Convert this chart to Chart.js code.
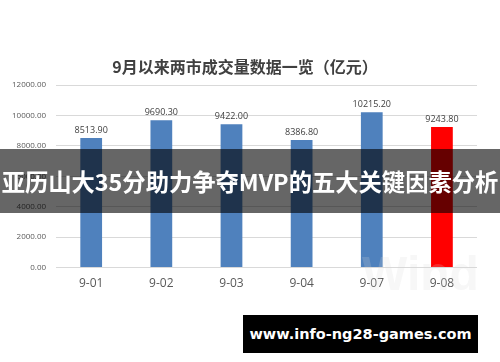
<!DOCTYPE html>
<html>
<head>
<meta charset="utf-8">
<script src="https://cdn.jsdelivr.net/npm/chart.js@4.4.1/dist/chart.umd.min.js"></script>
<style>
  html, body { margin: 0; padding: 0; background: #fff; }
  #wrap { position: relative; width: 500px; height: 362px; overflow: hidden; }
  #band {
    position: absolute; left: 0; top: 149px; width: 500px; height: 64px;
    background: rgba(0,0,0,0.6); color: #fff;
    font: bold 23.3px "Noto Sans CJK SC", sans-serif;
    line-height: 64px; text-align: center; white-space: nowrap;
  }
  #site {
    position: absolute; left: 243px; top: 315px; width: 235px; height: 38px;
    background: #000; color: #fff;
    font: bold 14.5px "DejaVu Sans", sans-serif;
    line-height: 38px; text-align: center; white-space: nowrap;
  }
  #wind {
    position: absolute; left: 362px; top: 246px;
    color: rgba(215,215,215,0.2);
    font: bold 48px "Liberation Sans", sans-serif;
  }
</style>
</head>
<body>
<div id="wrap">
  <canvas id="chart" width="500" height="362"></canvas>
  <div id="wind">Wind</div>
  <div id="band">亚历山大35分助力争夺MVP的五大关键因素分析</div>
  <div id="site">www.info-ng28-games.com</div>
</div>
<script>
let title = "9月以来两市成交量数据一览（亿元）";
let days = ["9-01", "9-02", "9-03", "9-04", "9-07", "9-08"];
let volume = [8513.90, 9690.30, 9422.00, 8386.80, 10215.20, 9243.80];
let yTicks = [0, 2000, 4000, 6000, 8000, 10000, 12000];

let barColors = days.map((d, i) => i == days.length - 1 ? "#ff0000" : "#4f81bd");

// title + value labels above each bar
let extras = {
  id: "extras",
  afterDatasetsDraw(chart) {
    let ctx = chart.ctx;
    let meta = chart.getDatasetMeta(0);
    ctx.save();
    ctx.font = "bold 16px 'Noto Sans CJK SC', sans-serif";
    ctx.fillStyle = "#404040";
    ctx.textAlign = "center";
    ctx.textBaseline = "middle";
    ctx.fillText(title, 245, 67);

    ctx.font = "9px 'Open Sans', sans-serif";
    ctx.textBaseline = "bottom";
    meta.data.forEach((bar, i) => {
      ctx.fillText(volume[i].toFixed(2), bar.x, bar.y - 3);
    });
    ctx.restore();
  }
};

let ctx = document.getElementById("chart").getContext("2d");
let graph = new Chart(ctx, {
  type: "bar",
  data: {
    labels: days,
    datasets: [
      {
        data: volume,
        backgroundColor: barColors,
        borderWidth: 0,
        categoryPercentage: 1,
        barPercentage: 0.31
      }
    ]
  },
  options: {
    responsive: false,
    animation: false,
    layout: { padding: { top: 85, left: 2, right: 23, bottom: 70 } },
    plugins: {
      legend: { display: false },
      tooltip: { enabled: false },
      title: { display: false }
    },
    scales: {
      x: {
        grid: { display: false },
        border: { display: false },
        ticks: {
          color: "#595959",
          padding: 1,
          font: { size: 12, family: "'Open Sans', sans-serif" }
        }
      },
      y: {
        min: 0,
        max: 12000,
        afterBuildTicks: axis => { axis.ticks = yTicks.map(v => ({ value: v })); },
        grid: { color: "#d9d9d9", drawTicks: false },
        border: { display: false },
        ticks: {
          color: "#595959",
          padding: 10,
          font: { size: 8, family: "'Open Sans', sans-serif" },
          callback: v => v.toFixed(2)
        }
      }
    }
  },
  plugins: [extras]
});
</script>
</body>
</html>
